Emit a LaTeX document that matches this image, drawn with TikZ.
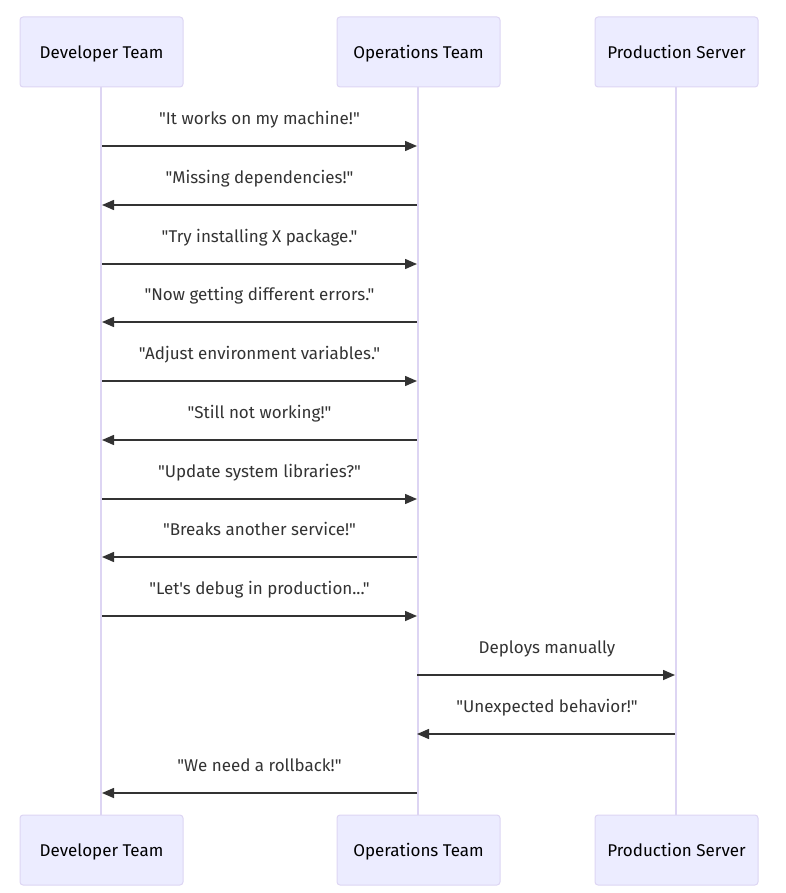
\documentclass[tikz,border=0pt]{standalone}
\usepackage{fontspec}
\setmainfont{Fira Sans}[Ligatures=TeXOff]
\usetikzlibrary{arrows.meta}
\definecolor{actfill}{HTML}{ECECFF}
\definecolor{actline}{HTML}{DDD5F3}
\definecolor{msg}{HTML}{333333}
\tikzset{
  actor/.style={draw=actline, line width=1pt, fill=actfill, rounded corners=3pt, minimum width=163pt, minimum height=70pt, font=\fontsize{17}{20}\selectfont, inner sep=0pt, text=black, text height=14.5pt, text depth=1.5pt},
  life/.style={draw=actline, line width=2pt},
  msgarrow/.style={draw=msg, line width=1.5pt, -{Triangle[length=12pt,width=10pt]}},
  lbl/.style={font=\fontsize{17}{20}\selectfont, text=msg, inner sep=0pt, text height=12.5pt, text depth=3.5pt}
}
\begin{document}
\begin{tikzpicture}[x=1pt,y=-1pt]
\useasboundingbox (0,0) rectangle (785,893);
% lifelines first
\coordinate (dt) at (101,87);
\coordinate (db) at (101,815);
\coordinate (ot) at (418,87);
\coordinate (ob) at (418,815);
\coordinate (pt) at (676,87);
\coordinate (pb) at (676,815);
\draw[life] (dt) -- (db);
\draw[life] (ot) -- (ob);
\draw[life] (pt) -- (pb);
\node[actor] (dev1) at (101.5,52) {Developer Team};
\node[actor] (ops1) at (418.5,52) {Operations Team};
\node[actor] (prod1) at (676.5,52) {Production Server};
\node[actor] (dev2) at (101.5,850) {Developer Team};
\node[actor] (ops2) at (418.5,850) {Operations Team};
\node[actor] (prod2) at (676.5,850) {Production Server};
% message coordinates
\foreach \i/\y in {1/146,2/205,3/264,4/322,5/381,6/440,7/499,8/557,9/616,10/675,11/734,12/793}{
  \coordinate (d\i) at (102,\y);
  \coordinate (o\i) at (417,\y);
  \coordinate (p\i) at (675,\y);
}
\draw[msgarrow] (d1) -- (o1);
\node[lbl] (l1) at (259.5,120) {"It works on my machine!"};
\draw[msgarrow] (o2) -- (d2);
\node[lbl] (l2) at (259.5,179) {"Missing dependencies!"};
\draw[msgarrow] (d3) -- (o3);
\node[lbl] (l3) at (259.5,238) {"Try installing X package."};
\draw[msgarrow] (o4) -- (d4);
\node[lbl] (l4) at (259.5,296) {"Now getting different errors."};
\draw[msgarrow] (d5) -- (o5);
\node[lbl] (l5) at (259.5,355) {"Adjust environment variables."};
\draw[msgarrow] (o6) -- (d6);
\node[lbl] (l6) at (259.5,414) {"Still not working!"};
\draw[msgarrow] (d7) -- (o7);
\node[lbl] (l7) at (259.5,473) {"Update system libraries?"};
\draw[msgarrow] (o8) -- (d8);
\node[lbl] (l8) at (259.5,531) {"Breaks another service!"};
\draw[msgarrow] (d9) -- (o9);
\node[lbl] (l9) at (259.5,590) {"Let's debug in production..."};
\draw[msgarrow] (o10) -- (p10);
\node[lbl] (l10) at (547,649) {Deploys manually};
\draw[msgarrow] (p11) -- (o11);
\node[lbl] (l11) at (547,708) {"Unexpected behavior!"};
\draw[msgarrow] (o12) -- (d12);
\node[lbl] (l12) at (259.5,767) {"We need a rollback!"};
\end{tikzpicture}
\end{document}
